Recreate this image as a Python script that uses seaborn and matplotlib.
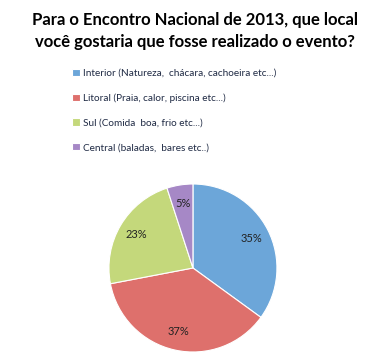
import matplotlib
matplotlib.use("Agg")
import matplotlib.pyplot as plt
import seaborn as sns

# dados
categorias = ["Interior (Natureza,  chácara, cachoeira etc...)",
              "Litoral (Praia, calor, piscina etc...)",
              "Sul (Comida  boa, frio etc...)",
              "Central (baladas,  bares etc..)"]
valores = [35, 37, 23, 5]
cores = ["#6CA6D9", "#DE706C", "#C4D87B", "#A688C6"]

sns.set_theme(style="white")
plt.rcParams['font.family'] = ['Lato', 'DejaVu Sans']

fig = plt.figure(figsize=(3.89, 3.64), dpi=100)
fig.patch.set_facecolor("white")

fig.text(0.5, 0.915, "Para o Encontro Nacional de 2013, que local\nvocê gostaria que fosse realizado o evento?",
         ha="center", va="center", fontsize=12, fontweight="bold", color="black", linespacing=1.45)

ax = fig.add_axes([0.280, 0.033, 0.432, 0.4615])
wedges, textos, pcts = ax.pie(valores, colors=cores, startangle=90, counterclock=False,
                              autopct="%1.0f%%", pctdistance=0.78,
                              wedgeprops=dict(edgecolor="white", linewidth=0.8),
                              textprops=dict(fontsize=8, color="#222222"))
ax.set_xlim(-1, 1)
ax.set_ylim(-1, 1)
ax.set_aspect("equal")

leg = fig.legend(wedges, categorias, loc="upper left", bbox_to_anchor=(0.175, 0.822),
                 frameon=False, fontsize=7.2, labelspacing=1.55, handlelength=0.75,
                 handleheight=0.75, handletextpad=0.3, borderaxespad=0)
for t in leg.get_texts():
    t.set_color("#1F2A44")

fig.savefig("out.png", dpi=100, facecolor="white")
